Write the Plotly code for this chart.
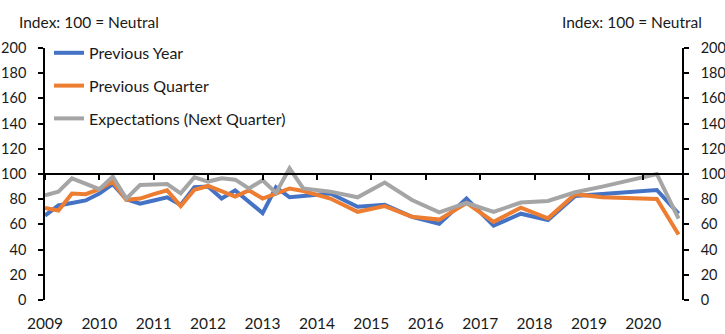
import plotly.graph_objects as go

dates = [
    "2009-01-01", "2009-04-01", "2009-07-01", "2009-10-01",
    "2010-01-01", "2010-04-01", "2010-07-01", "2010-10-01",
    "2011-01-01", "2011-04-01", "2011-07-01", "2011-10-01",
    "2012-01-01", "2012-04-01", "2012-07-01", "2012-10-01",
    "2013-01-01", "2013-04-01", "2013-07-01", "2013-10-01",
    "2014-04-01", "2014-10-01", "2015-04-01", "2015-10-01",
    "2016-04-01", "2016-10-01", "2017-04-01", "2017-10-01",
    "2018-04-01", "2018-10-01", "2019-04-01",
    "2020-04-01", "2020-08-25",
]

previous_year = [
    67, 75, 77, 79, 84.5, 92, 80, 76.5, 79, 81.5, 75.5, 89.5,
    90, 80.5, 87, 78, 69, 89.5, 81.5, 82.5,
    84.5, 74, 75.5, 66, 60.5, 80.5, 59, 68.5, 63.5, 82.5, 84,
    87.3, 68.5,
]
previous_quarter = [
    73, 71, 84.5, 84, 88, 94, 79.5, 80.5, 84, 87, 74.5, 87.5,
    90.5, 86, 82, 87, 80.5, 84.5, 88.5, 86.5,
    80.5, 70, 74.5, 66, 63.8, 77, 62, 73.3, 64.8, 84, 81.5,
    80.2, 52,
]
expectations = [
    83, 86, 96.5, 92, 88, 98, 80.5, 91.3, 91.8, 92, 84.7, 97.4,
    94, 96.6, 95.5, 88.6, 95, 85, 104.5, 88.5,
    86, 81.5, 93.2, 79.4, 69.5, 77, 70, 77.3, 78.6, 85.5, 90,
    100, 64.5,
]

series_names = ["Previous Year", "Previous Quarter", "Expectations (Next Quarter)"]
series_colors = ["#4472C4", "#ED7D31", "#A5A5A5"]
series_values = [previous_year, previous_quarter, expectations]

y_ticks = [0, 20, 40, 60, 80, 100, 120, 140, 160, 180, 200]
x_range = ["2009-01-01", "2020-09-17"]
unit_label = "Index: 100 = Neutral"

FONT = "Lato"
FS = 15.5
TICK_FS = 14.5
TXT = "#1a1a1a"

fig = go.Figure()
for name, color, vals in zip(series_names, series_colors, series_values):
    fig.add_trace(go.Scatter(
        x=dates, y=vals, name=name, mode="lines",
        line=dict(color=color, width=4),
        legendgroup=name,
    ))

fig.update_layout(
    width=725, height=334,
    margin=dict(l=45, r=43, t=48, b=34, autoexpand=False),
    paper_bgcolor="white", plot_bgcolor="white",
    font=dict(family=FONT, size=FS, color=TXT),
    showlegend=True,
    legend=dict(
        x=0.0063, y=1.048, xanchor="left", yanchor="top",
        bgcolor="rgba(0,0,0,0)", tracegroupgap=9,
        font=dict(family=FONT, size=16, color=TXT),
    ),
    xaxis=dict(
        type="date", range=x_range, automargin=False,
        tick0="2009-01-01", dtick="M12", tickformat="%Y",
        showline=False, showgrid=False, zeroline=False,
        ticks="outside", ticklen=9, tickcolor="rgba(0,0,0,0)",
        tickfont=dict(family=FONT, size=FS, color=TXT),
    ),
    xaxis2=dict(
        type="date", range=x_range, overlaying="x", automargin=False,
        anchor="free", position=0.5, side="bottom",
        tick0="2009-01-01", dtick="M12",
        showline=True, linecolor="black", linewidth=1.5,
        ticks="outside", ticklen=5, tickwidth=1.5, tickcolor="black",
        showticklabels=False, showgrid=False, zeroline=False,
    ),
    yaxis=dict(
        range=[0, 200], tickvals=y_ticks, automargin=False,
        showline=True, linecolor="black", linewidth=1.5,
        ticks="outside", ticklen=5, tickwidth=1.5, tickcolor="black",
        ticklabelstandoff=9,
        showgrid=False, zeroline=False,
        tickfont=dict(family=FONT, size=TICK_FS, color=TXT),
    ),
    yaxis2=dict(
        range=[0, 200], tickvals=y_ticks, overlaying="y", side="right",
        anchor="x", automargin=False,
        showline=True, linecolor="black", linewidth=1.5,
        ticks="outside", ticklen=5, tickwidth=1.5, tickcolor="black",
        ticklabelstandoff=9,
        showgrid=False, zeroline=False,
        tickfont=dict(family=FONT, size=TICK_FS, color=TXT),
    ),
    annotations=[
        dict(text=unit_label, xref="paper", yref="paper",
             x=-0.044, y=1.103, xanchor="left", yanchor="middle",
             showarrow=False, font=dict(family=FONT, size=FS, color=TXT)),
        dict(text=unit_label, xref="paper", yref="paper",
             x=1.0345, y=1.103, xanchor="right", yanchor="middle",
             showarrow=False, font=dict(family=FONT, size=FS, color=TXT)),
    ],
)

# invisible trace so the overlay axes are rendered
fig.add_trace(go.Scatter(x=[dates[0]], y=[y_ticks[0]], xaxis="x2", yaxis="y2",
                         mode="markers", marker=dict(opacity=0), showlegend=False,
                         hoverinfo="skip"))

fig.write_html("out.html")
